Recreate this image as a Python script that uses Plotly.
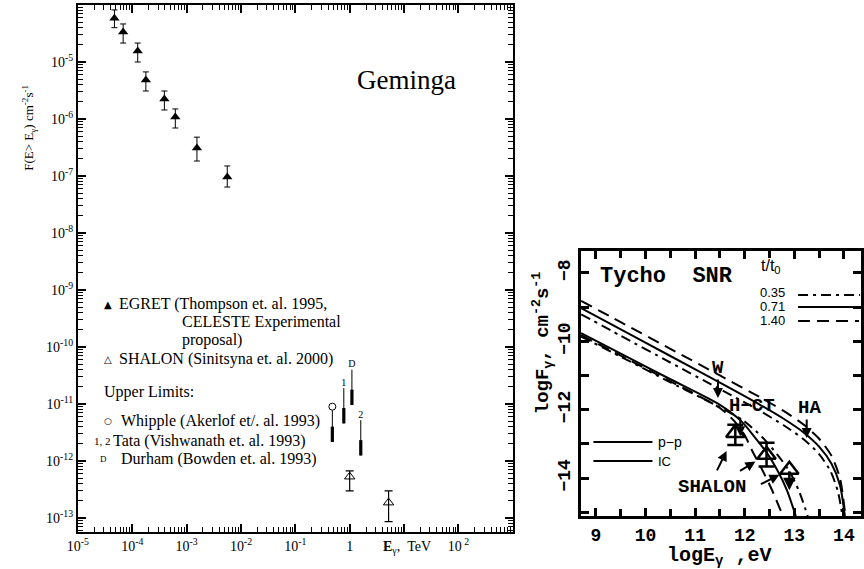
import plotly.graph_objects as go

W, H = 864, 569
def px(x): return x / W
def py(y): return 1 - y / H

SERIF = "Liberation Serif, Times New Roman, serif"
MONO = "Liberation Mono, Courier New, monospace"
SANS = "Liberation Sans, Arial, sans-serif"

# ---------------- Left panel data (Geminga) ----------------
egret_E  = [4.7e-5, 6.8e-5, 1.26e-4, 1.78e-4, 3.9e-4, 6.2e-4, 1.55e-3, 5.6e-3]
egret_F  = [5.85e-5, 3.36e-5, 1.56e-5, 4.83e-6, 2.24e-6, 1.08e-6, 3.10e-7, 9.6e-8]
egret_hi = [8.2e-5, 4.65e-5, 2.15e-5, 6.7e-6, 3.1e-6, 1.5e-6, 4.8e-7, 1.5e-7]
egret_lo = [4.0e-5, 2.15e-5, 1.0e-5, 3.1e-6, 1.44e-6, 6.95e-7, 1.83e-7, 6.4e-8]

shalon_E  = [1.0, 5.2]
shalon_F  = [5.3e-13, 1.86e-13]
shalon_hi = [6.7e-13, 3.0e-13]
shalon_lo = [3.0e-13, 8.6e-14]

ul_E     = [0.48, 0.78, 1.1, 1.6]
ul_F     = [8.97e-12, 1.9e-11, 4.0e-11, 5.2e-12]
ul_label = ["o", "1", "D", "2"]

x_tickvals = [1e-5, 1e-4, 1e-3, 1e-2, 1e-1, 1, 10, 1e2, 1e3]
x_ticktext = ["10<sup>-5</sup>", "10<sup>-4</sup>", "10<sup>-3</sup>", "10<sup>-2</sup>",
              "10<sup>-1</sup>", "1", "", "10<sup> 2</sup>", ""]
y_tickvals = [1e-4, 1e-5, 1e-6, 1e-7, 1e-8, 1e-9, 1e-10, 1e-11, 1e-12, 1e-13]
y_ticktext = ["", "10<sup>-5</sup>", "10<sup>-6</sup>", "10<sup>-7</sup>", "10<sup>-8</sup>",
              "10<sup>-9</sup>", "10<sup>-10</sup>", "10<sup>-11</sup>", "10<sup>-12</sup>",
              "10<sup>-13</sup>"]

# ---------------- Right panel data (Tycho SNR) ----------------
ic140_x = [8.7, 9.5, 10.5, 11.5, 12.3, 12.8, 13.2, 13.5, 13.75, 13.92, 14.03]
ic140_y = [-8.82, -9.44, -10.22, -11.0, -11.63, -12.05, -12.45, -12.85, -13.35, -14.0, -15.11]
ic071_x = [8.7, 9.5, 10.5, 11.5, 12.3, 12.8, 13.2, 13.5, 13.75, 13.92, 14.02]
ic071_y = [-9.03, -9.65, -10.43, -11.21, -11.85, -12.28, -12.68, -13.08, -13.58, -14.2, -15.11]
ic035_x = [8.7, 9.5, 10.5, 11.5, 12.3, 12.8, 13.2, 13.5, 13.73, 13.88, 13.97]
ic035_y = [-9.21, -9.84, -10.62, -11.40, -12.03, -12.47, -12.88, -13.3, -13.8, -14.4, -15.11]

pp140_x = [8.7, 9.5, 10.5, 11.5, 11.8, 12.0, 12.15, 12.35, 12.55, 12.77]
pp140_y = [-9.82, -10.42, -11.17, -11.95, -12.35, -12.75, -13.2, -13.75, -14.35, -15.11]
pp071_x = [8.7, 9.5, 10.5, 11.5, 11.94, 12.2, 12.44, 12.65, 12.85, 13.03]
pp071_y = [-9.76, -10.36, -11.11, -11.86, -12.35, -12.8, -13.25, -13.75, -14.35, -15.11]
pp035_x = [8.7, 9.5, 10.5, 11.5, 12.0, 12.35, 12.65, 12.9, 13.1, 13.27]
pp035_y = [-9.86, -10.45, -11.2, -11.93, -12.35, -12.8, -13.3, -13.8, -14.4, -15.11]

shal_logE = [11.81, 12.44]
shal_logF = [-12.68, -13.32]
shal_hi   = [-12.44, -12.97]
shal_lo   = [-13.03, -13.66]
shal_ul_logE = [12.90]
shal_ul_logF = [-13.76]

lim_label = ["W", "H\u2212CT", "HA"]
lim_logE  = [11.46, 11.91, 13.25]
lim_logF  = [-11.66, -12.78, -12.83]

fig = go.Figure()

# ---- Left panel traces ----
fig.add_trace(go.Scatter(
    x=egret_E, y=egret_F, mode="markers", xaxis="x", yaxis="y",
    marker=dict(symbol="triangle-up", size=9, color="black"),
    error_y=dict(type="data", symmetric=False,
                 array=[h - f for h, f in zip(egret_hi, egret_F)],
                 arrayminus=[f - l for f, l in zip(egret_F, egret_lo)],
                 color="black", thickness=1, width=3),
    showlegend=False, hoverinfo="skip"))

fig.add_trace(go.Scatter(
    x=shalon_E, y=shalon_F, mode="markers", xaxis="x", yaxis="y",
    marker=dict(symbol="triangle-up-open", size=9, color="black", line=dict(width=1)),
    error_y=dict(type="data", symmetric=False,
                 array=[h - f for h, f in zip(shalon_hi, shalon_F)],
                 arrayminus=[f - l for f, l in zip(shalon_F, shalon_lo)],
                 color="black", thickness=1.2, width=4),
    showlegend=False, hoverinfo="skip"))

UL_LEN = 0.62   # decades (arrow length, style)
UL_HEAD = 0.27
xs, ys, xs2, ys2 = [], [], [], []
for e, f in zip(ul_E, ul_F):
    xs += [e, e, None]; ys += [f, f * 10 ** -UL_LEN, None]
    xs2 += [e, e, None]; ys2 += [f * 10 ** -(UL_LEN - UL_HEAD), f * 10 ** -UL_LEN, None]
fig.add_trace(go.Scatter(x=xs, y=ys, mode="lines", xaxis="x", yaxis="y",
                         line=dict(color="black", width=1), showlegend=False, hoverinfo="skip"))
fig.add_trace(go.Scatter(x=xs2, y=ys2, mode="lines", xaxis="x", yaxis="y",
                         line=dict(color="black", width=3.2), showlegend=False, hoverinfo="skip"))
fig.add_trace(go.Scatter(
    x=[e for e, l in zip(ul_E, ul_label) if l == "o"],
    y=[f for f, l in zip(ul_F, ul_label) if l == "o"],
    mode="markers", xaxis="x", yaxis="y",
    marker=dict(symbol="circle", size=7, color="white", line=dict(color="black", width=1)),
    showlegend=False, hoverinfo="skip"))
fig.add_trace(go.Scatter(
    x=[e for e, l in zip(ul_E, ul_label) if l != "o"],
    y=[f for f, l in zip(ul_F, ul_label) if l != "o"],
    text=[l for l in ul_label if l != "o"],
    mode="text", textposition="top center", xaxis="x", yaxis="y",
    textfont=dict(family=SERIF, size=10, color="black"),
    showlegend=False, hoverinfo="skip"))

# ---- Right panel traces ----
curves = [
    (ic140_x, ic140_y, "12px,7px"),
    (ic071_x, ic071_y, "solid"),
    (ic035_x, ic035_y, "10px,5px,3px,5px"),
    (pp140_x, pp140_y, "12px,7px"),
    (pp071_x, pp071_y, "solid"),
    (pp035_x, pp035_y, "10px,5px,3px,5px"),
]
for cx, cy, dash in curves:
    fig.add_trace(go.Scatter(x=cx, y=cy, mode="lines", xaxis="x2", yaxis="y2",
                             line=dict(color="black", width=2, dash=dash, shape="spline", smoothing=0.7),
                             showlegend=False, hoverinfo="skip"))

fig.add_trace(go.Scatter(
    x=shal_logE, y=shal_logF, mode="markers", xaxis="x2", yaxis="y2",
    marker=dict(symbol="triangle-up-open", size=16, color="black", line=dict(width=2.5)),
    error_y=dict(type="data", symmetric=False,
                 array=[h - f for h, f in zip(shal_hi, shal_logF)],
                 arrayminus=[f - l for f, l in zip(shal_logF, shal_lo)],
                 color="black", thickness=2.5, width=8),
    showlegend=False, hoverinfo="skip"))
fig.add_trace(go.Scatter(
    x=shal_ul_logE, y=shal_ul_logF, mode="markers", xaxis="x2", yaxis="y2",
    marker=dict(symbol="triangle-up-open", size=16, color="black", line=dict(width=2.5)),
    showlegend=False, hoverinfo="skip"))

ann = []
for e, f in zip(shal_ul_logE, shal_ul_logF):
    ann.append(dict(x=e, y=f - 0.6, ax=e, ay=f, xref="x2", yref="y2", axref="x2", ayref="y2",
                    text="", showarrow=True, arrowhead=2, arrowsize=1, arrowwidth=2.5, arrowcolor="black"))
text_dx = [0, 12, 3]
for lab, e, f, dx in zip(lim_label, lim_logE, lim_logF, text_dx):
    ann.append(dict(x=e, y=f, xref="x2", yref="y2", ax=0, ay=-20, text="", showarrow=True,
                    arrowhead=2, arrowsize=1, arrowwidth=2, arrowcolor="black"))
    ann.append(dict(x=e, y=f, xref="x2", yref="y2", text=f"<b>{lab}</b>", showarrow=False,
                    xshift=dx, yshift=30, font=dict(family=MONO, size=19, color="black")))
ptr = [(-19, 39, 20), (-28, 17, 13), (-30, 15, 11)]
pe = shal_logE + shal_ul_logE
pf = shal_logF + shal_ul_logF
for (ax_, ay_, so), e, f in zip(ptr, pe, pf):
    ann.append(dict(x=e, y=f, xref="x2", yref="y2", ax=ax_, ay=ay_, text="", showarrow=True,
                    arrowhead=2, arrowsize=1, arrowwidth=2, standoff=so, arrowcolor="black"))

def T(x, y, text, size, family=SERIF, xanchor="left", angle=0):
    ann.append(dict(x=px(x), y=py(y), xref="paper", yref="paper", text=text, showarrow=False,
                    xanchor=xanchor, yanchor="middle", textangle=angle,
                    font=dict(family=family, size=size, color="black")))

T(402, 80, "Geminga", 27, xanchor="center")
T(18, 128, "F(E&gt; E<sub>\u03b3</sub>) cm<sup>-2</sup>s<sup>-1</sup>", 13, xanchor="center", angle=-90)
T(403, 547, "<b>E</b><sub>\u03b3</sub>,  TeV", 14, xanchor="center")
T(92, 304, "\u25b2", 10, family="DejaVu Sans")
T(108, 304, "EGRET (Thompson et. al. 1995,", 16)
T(172, 322, "CELESTE Experimental", 16)
T(172, 340, "proposal)", 16)
T(92, 359, "\u25b3", 10, family="DejaVu Sans")
T(108, 359, "SHALON (Sinitsyna et. al. 2000)", 16)
T(92, 392, "Upper Limits:", 16)
T(93, 421, "\u25cb", 9, family="DejaVu Sans")
T(110, 421, "Whipple (Akerlof et/. al. 1993)", 16)
T(82, 441, "1, 2", 11)
T(102, 441, "Tata (Vishwanath et. al. 1993)", 16)
T(88, 459, "D", 9)
T(110, 459, "Durham (Bowden et. al. 1993)", 16)

T(597, 277, "<b>Tycho  SNR</b>", 22, family=MONO)
T(540, 343, "<b>logF<sub>\u03b3</sub>, cm<sup>-2</sup>s<sup>-1</sup></b>", 19, family=MONO,
  xanchor="center", angle=-90)
T(720, 556, "<b>logE<sub>\u03b3</sub> ,eV</b>", 20, family=MONO, xanchor="center")
T(773, 266, "t/t<sub>0</sub>", 16, family=SANS, xanchor="center")
T(759, 292, "0.35", 13, family=SANS)
T(759, 306, "0.71", 13, family=SANS)
T(759, 320, "1.40", 13, family=SANS)
T(656, 442, "p\u2212p", 14, family=SANS)
T(656, 461, "IC", 13, family=SANS)
T(713, 487, "<b>SHALON</b>", 19, family=MONO, xanchor="center")

shapes = [
    dict(type="line", xref="paper", yref="paper", x0=px(800), x1=px(863), y0=py(295), y1=py(295),
         line=dict(color="black", width=2, dash="10px,5px,3px,5px")),
    dict(type="line", xref="paper", yref="paper", x0=px(800), x1=px(858), y0=py(307), y1=py(307),
         line=dict(color="black", width=2)),
    dict(type="line", xref="paper", yref="paper", x0=px(800), x1=px(862), y0=py(321), y1=py(321),
         line=dict(color="black", width=2, dash="12px,7px")),
    dict(type="line", xref="paper", yref="paper", x0=px(592), x1=px(652), y0=py(442), y1=py(442),
         line=dict(color="black", width=2)),
    dict(type="line", xref="paper", yref="paper", x0=px(592), x1=px(652), y0=py(461), y1=py(461),
         line=dict(color="black", width=2)),
]

minor_x = [m * 10.0 ** d for d in range(-5, 3) for m in range(2, 10)]
minor_y = [m * 10.0 ** d for d in range(-14, -4) for m in range(2, 10)]

common_left = dict(showline=True, linecolor="black", linewidth=2, mirror="allticks",
                   ticks="inside", tickcolor="black", showgrid=False, zeroline=False)

fig.update_layout(
    width=W, height=H, margin=dict(l=0, r=0, t=0, b=0),
    paper_bgcolor="white", plot_bgcolor="white", showlegend=False,
    annotations=ann, shapes=shapes,
    xaxis=dict(type="log", range=[-5, 3], domain=[px(68), px(510)], anchor="y",
               ticklen=8, tickwidth=1.5,
               tickmode="array", tickvals=x_tickvals, ticktext=x_ticktext,
               tickfont=dict(family=SERIF, size=14, color="black"),
               minor=dict(ticks="inside", ticklen=5, tickwidth=1.2, tickcolor="black",
                          tickmode="array", tickvals=minor_x, showgrid=False),
               **common_left),
    yaxis=dict(type="log", range=[-13.246, -4], domain=[py(532), py(5)], anchor="x",
               ticklen=8, tickwidth=1.5,
               tickmode="array", tickvals=y_tickvals, ticktext=y_ticktext,
               tickfont=dict(family=SERIF, size=14, color="black"),
               minor=dict(ticks="inside", ticklen=5, tickwidth=1.2, tickcolor="black",
                          tickmode="array", tickvals=minor_y, showgrid=False),
               **common_left),
    xaxis2=dict(range=[8.69, 14.345], domain=[px(579), 1.0], anchor="y2",
                showline=True, linecolor="black", linewidth=3, mirror="allticks",
                ticks="inside", ticklen=8, tickwidth=3, tickcolor="black",
                tickmode="array", tickvals=[9, 10, 11, 12, 13, 14],
                tickfont=dict(family=MONO, size=18, color="black", weight="bold"),
                minor=dict(ticks="inside", ticklen=7, tickwidth=3, tickcolor="black",
                           tickmode="array", tickvals=[9.5, 10.5, 11.5, 12.5, 13.5], showgrid=False),
                showgrid=False, zeroline=False),
    yaxis2=dict(range=[-15.11, -7.35], domain=[py(516), py(250.7)], anchor="x2",
                showline=True, linecolor="black", linewidth=3, mirror="allticks",
                ticks="inside", ticklen=8, tickwidth=3, tickcolor="black",
                tickmode="array", tickvals=[-15, -14, -13, -12, -11, -10, -9, -8],
                ticktext=["", "\u221214", "", "\u221212", "", "\u221210", "", "\u22128"],
                tickangle=-90,
                tickfont=dict(family=MONO, size=18, color="black", weight="bold"),
                showgrid=False, zeroline=False),
)

fig.write_html("out.html")
